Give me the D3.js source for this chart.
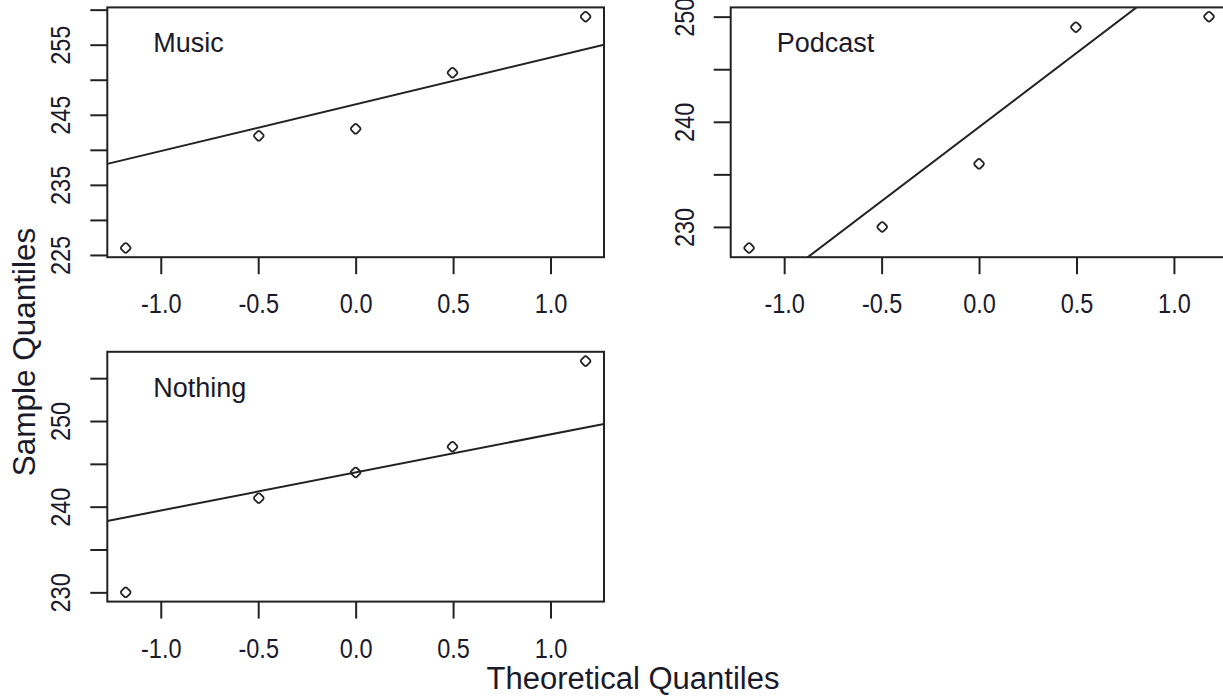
<!DOCTYPE html>
<html>
<head>
<meta charset="utf-8">
<script src="https://cdn.jsdelivr.net/npm/d3@7"></script>
<style>
  body { margin: 0; background: #fff; }
  text { font-family: "Liberation Sans", Arial, sans-serif; fill: #1a1a2a; }
</style>
</head>
<body>
<svg id="chart" width="1223" height="696"></svg>
<script>
// normal scores for n = 5 (qnorm(ppoints(5)))
const theoretical = [-1.18, -0.497, 0, 0.497, 1.18];

const groups = ["Music", "Podcast", "Nothing"];
const musicValues = [226, 242, 243, 251, 259];
const podcastValues = [228, 230, 236, 249, 250];
const nothingValues = [230, 241, 244, 247, 257];

const xTicks = [-1, -0.5, 0, 0.5, 1];
const musicTicks = [225, 230, 235, 240, 245, 250, 255, 260];
const musicLabels = [225, 235, 245, 255];
const podcastTicks = [230, 235, 240, 245, 250];
const podcastLabels = [230, 240, 250];
const nothingTicks = [230, 235, 240, 245, 250, 255];
const nothingLabels = [230, 240, 250];

const panels = [
  { name: groups[0], values: musicValues, ticks: musicTicks, labels: musicLabels, col: 0, row: 0 },
  { name: groups[1], values: podcastValues, ticks: podcastTicks, labels: podcastLabels, col: 1, row: 0 },
  { name: groups[2], values: nothingValues, ticks: nothingTicks, labels: nothingLabels, col: 0, row: 1 }
];

const width = 1223;
const height = 696;
const colLeft = [107.3, 730.7];
const rowTop = [7.4, 351.8];
const boxWidth = 496.7;
const boxHeight = 249.8;
const ink = "#222";
const fontSize = 27;
const squeeze = 0.87; // the tick labels are a bit narrower than plain Arial
const q75 = 0.6744898; // qnorm(0.75)

const svg = d3.select("#chart");
svg.append("rect").attr("width", width).attr("height", height).attr("fill", "#fff");

// R-style range: data extent padded by 4% on both ends
function padded(ext) {
  const d = (ext[1] - ext[0]) * 0.04;
  return [ext[0] - d, ext[1] + d];
}

panels.forEach((p, i) => {
  const left = colLeft[p.col];
  const top = rowTop[p.row];

  const xScale = d3.scaleLinear().domain(padded(d3.extent(theoretical))).range([0, boxWidth]);
  const yScale = d3.scaleLinear().domain(padded(d3.extent(p.values))).range([boxHeight, 0]);

  const g = svg.append("g").attr("transform", `translate(${left},${top})`);

  g.append("clipPath").attr("id", "clip" + i)
    .append("rect").attr("width", boxWidth).attr("height", boxHeight);

  // x axis
  const xAxis = g.append("g")
    .attr("transform", `translate(0,${boxHeight})`)
    .call(d3.axisBottom(xScale).tickValues(xTicks).tickFormat(d3.format(".1f"))
      .tickSize(17).tickPadding(20));
  xAxis.select(".domain").remove();
  xAxis.selectAll(".tick line").attr("stroke", ink).attr("stroke-width", 2);
  xAxis.selectAll(".tick text")
    .attr("font-size", fontSize)
    .attr("font-family", null)
    .attr("transform", `scale(${squeeze},1)`)
    .text(d => d3.format(".1f")(d).replace("−", "-"));

  // y axis, labels turned like R's las = 0
  const yAxis = g.append("g")
    .call(d3.axisLeft(yScale).tickValues(p.ticks).tickSize(17).tickFormat(""));
  yAxis.select(".domain").remove();
  yAxis.selectAll(".tick line").attr("stroke", ink).attr("stroke-width", 2);
  yAxis.selectAll(".tick").filter(d => p.labels.includes(d))
    .append("text")
    .attr("transform", `rotate(-90) scale(${squeeze},1)`)
    .attr("x", 0)
    .attr("y", -37)
    .attr("text-anchor", "middle")
    .attr("font-size", fontSize)
    .text(d => d);

  // reference line through the quartiles (qqline)
  const sorted = p.values.slice().sort(d3.ascending);
  const y25 = d3.quantile(sorted, 0.25);
  const y75 = d3.quantile(sorted, 0.75);
  const slope = (y75 - y25) / (2 * q75);
  const intercept = y25 + q75 * slope;
  const xd = xScale.domain();
  g.append("line")
    .attr("clip-path", `url(#clip${i})`)
    .attr("x1", xScale(xd[0])).attr("y1", yScale(intercept + slope * xd[0]))
    .attr("x2", xScale(xd[1])).attr("y2", yScale(intercept + slope * xd[1]))
    .attr("stroke", ink).attr("stroke-width", 2);

  // points (open markers)
  g.selectAll(".pt").data(sorted).join("rect")
    .attr("class", "pt")
    .attr("x", -4).attr("y", -4)
    .attr("width", 8).attr("height", 8)
    .attr("rx", 2)
    .attr("transform", (d, k) => `translate(${xScale(theoretical[k])},${yScale(d)}) rotate(45)`)
    .attr("fill", "none")
    .attr("stroke", ink)
    .attr("stroke-width", 1.8);

  // box
  g.append("rect")
    .attr("width", boxWidth).attr("height", boxHeight)
    .attr("fill", "none").attr("stroke", ink).attr("stroke-width", 2);

  g.append("text")
    .attr("x", 46).attr("y", 45)
    .attr("font-size", fontSize)
    .text(p.name);
});

// outer titles
svg.append("text")
  .attr("x", 633).attr("y", 689)
  .attr("text-anchor", "middle")
  .attr("font-size", 31)
  .text("Theoretical Quantiles");

svg.append("text")
  .attr("transform", "translate(35,352) rotate(-90)")
  .attr("text-anchor", "middle")
  .attr("font-size", 31.5)
  .text("Sample Quantiles");
</script>
</body>
</html>
